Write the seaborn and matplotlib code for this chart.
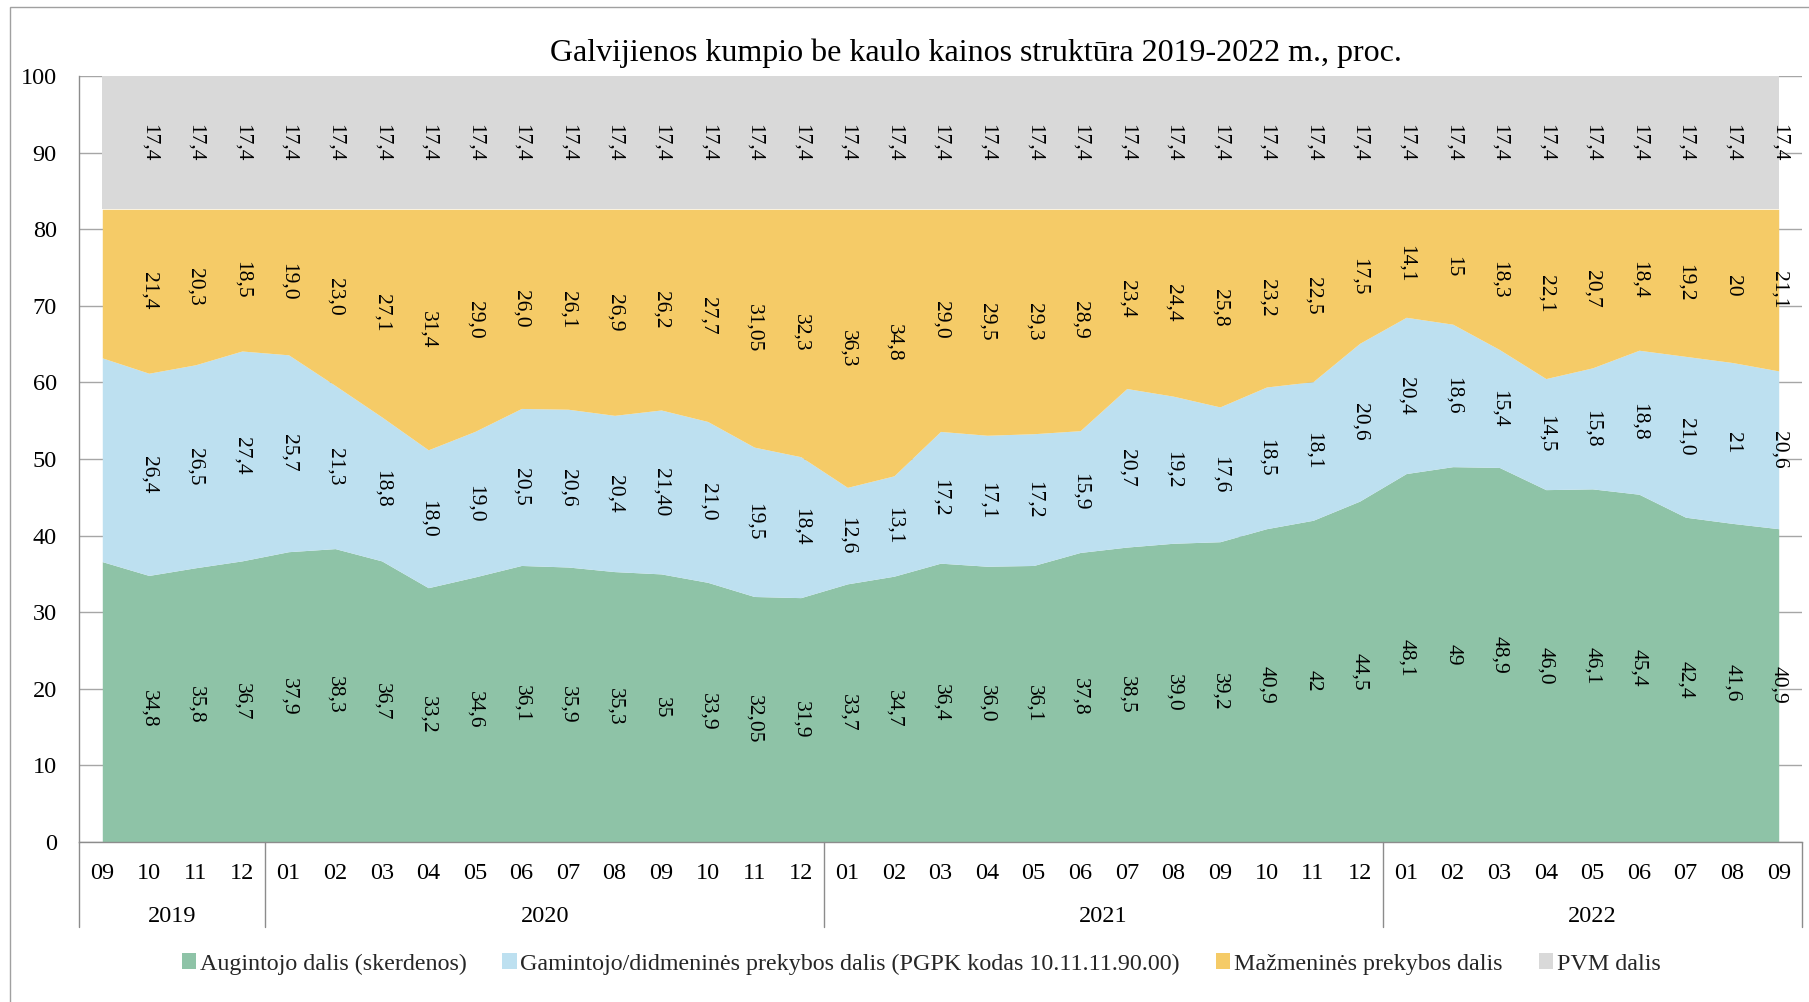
import pandas as pd
import matplotlib.pyplot as plt
import matplotlib.transforms as mtransforms
from matplotlib.patches import Rectangle, Patch
from matplotlib.lines import Line2D
import seaborn as sns

# Data (value labels as printed on the chart; the first month has no labels)
months = ['09', '10', '11', '12',
          '01', '02', '03', '04', '05', '06', '07', '08', '09', '10', '11', '12',
          '01', '02', '03', '04', '05', '06', '07', '08', '09', '10', '11', '12',
          '01', '02', '03', '04', '05', '06', '07', '08', '09']
years = ['2019', '2020', '2021', '2022']
year_len = [4, 12, 12, 9]

augintojo = ['36,6', '34,8', '35,8', '36,7', '37,9', '38,3', '36,7', '33,2', '34,6', '36,1', '35,9',
             '35,3', '35', '33,9', '32,05', '31,9', '33,7', '34,7', '36,4', '36,0', '36,1', '37,8',
             '38,5', '39,0', '39,2', '40,9', '42', '44,5', '48,1', '49', '48,9', '46,0', '46,1',
             '45,4', '42,4', '41,6', '40,9']
gamintojo = ['26,6', '26,4', '26,5', '27,4', '25,7', '21,3', '18,8', '18,0', '19,0', '20,5', '20,6',
             '20,4', '21,40', '21,0', '19,5', '18,4', '12,6', '13,1', '17,2', '17,1', '17,2', '15,9',
             '20,7', '19,2', '17,6', '18,5', '18,1', '20,6', '20,4', '18,6', '15,4', '14,5', '15,8',
             '18,8', '21,0', '21', '20,6']
mazmenines = ['19,4', '21,4', '20,3', '18,5', '19,0', '23,0', '27,1', '31,4', '29,0', '26,0', '26,1',
              '26,9', '26,2', '27,7', '31,05', '32,3', '36,3', '34,8', '29,0', '29,5', '29,3', '28,9',
              '23,4', '24,4', '25,8', '23,2', '22,5', '17,5', '14,1', '15', '18,3', '22,1', '20,7',
              '18,4', '19,2', '20', '21,1']
pvm = ['17,4'] * 37

series_names = ['Augintojo dalis (skerdenos)',
                'Gamintojo/didmeninės prekybos dalis (PGPK kodas 10.11.11.90.00)',
                'Mažmeninės prekybos dalis',
                'PVM dalis']
colors = ['#8EC3A7', '#BDE0F0', '#F5CB67', '#D9D9D9']

labels = [augintojo, gamintojo, mazmenines, pvm]
df = pd.DataFrame({name: [float(s.replace(',', '.')) for s in lab]
                   for name, lab in zip(series_names, labels)})

sns.set_theme(style='white')
plt.rcParams['font.family'] = ['Liberation Serif', 'DejaVu Serif']

fig = plt.figure(figsize=(18.09, 10.02), dpi=100)
ax = fig.add_axes([79 / 1809, 1 - 842 / 1002, (1802 - 79) / 1809, (842 - 76) / 1002])

x = list(range(len(months)))
ax.stackplot(x, *[df[c] for c in series_names], colors=sns.color_palette(colors), linewidth=0, zorder=2)

# Value labels in the middle of each band
bottom = pd.Series(0.0, index=df.index)
for name, lab in zip(series_names, labels):
    mid = bottom + df[name] / 2
    for i in range(1, len(x)):
        ax.text(i, mid[i], lab[i], rotation=270, ha='center', va='center', fontsize=15.5,
                color='black', zorder=4)
    bottom = bottom + df[name]

ax.set_xlim(-0.5, len(x) - 0.5)
ax.set_ylim(0, 100)
ax.set_yticks(range(0, 101, 10))
ax.yaxis.grid(True, color='#A6A6A6', linewidth=1.0, zorder=1)
ax.set_axisbelow(True)
for side in ['top', 'right']:
    ax.spines[side].set_visible(False)
ax.spines['left'].set_color('#8C8C8C')
ax.spines['bottom'].set_color('#8C8C8C')
ax.spines['left'].set_linewidth(1.0)
ax.spines['bottom'].set_linewidth(1.0)
ax.tick_params(axis='y', length=0, pad=16, labelsize=17.5, labelcolor='black')
ax.tick_params(axis='x', length=0, pad=15, labelsize=17.5, labelcolor='black')
ax.set_xticks(x)
ax.set_xticklabels(months)

# Year labels and separators below the month labels
trans = mtransforms.blended_transform_factory(ax.transData, ax.transAxes)
sep_y = -(927 - 842) / (842 - 76)
start = 0
edges = [-0.5]
for yr, n in zip(years, year_len):
    ax.text(start + (n - 1) / 2, -(917 - 842) / (842 - 76), yr, transform=trans,
            ha='center', va='center', fontsize=17.5, color='black')
    start += n
    edges.append(start - 0.5)
for e in edges:
    ax.add_line(Line2D([e, e], [0, sep_y], transform=trans, color='#8C8C8C',
                       linewidth=1.0, clip_on=False))

fig.text(976 / 1809, 1 - 53 / 1002, 'Galvijienos kumpio be kaulo kainos struktūra 2019-2022 m., proc.',
         ha='center', va='center', fontsize=23, color='black')

handles = [Patch(facecolor=c, edgecolor='none') for c in colors]
fig.legend(handles, series_names, loc='center', bbox_to_anchor=(921 / 1809, 1 - 964 / 1002),
           ncol=4, frameon=False, fontsize=17.3, handlelength=0.6, handleheight=0.6,
           handletextpad=0.15, columnspacing=1.5)

# Outer chart border
fig.add_artist(Rectangle((10 / 1809, -0.1), 1.2, 1.1 - 7 / 1002, transform=fig.transFigure,
                         fill=False, edgecolor='#A0A0A0', linewidth=1.0))

fig.savefig('out.png', dpi=100)
